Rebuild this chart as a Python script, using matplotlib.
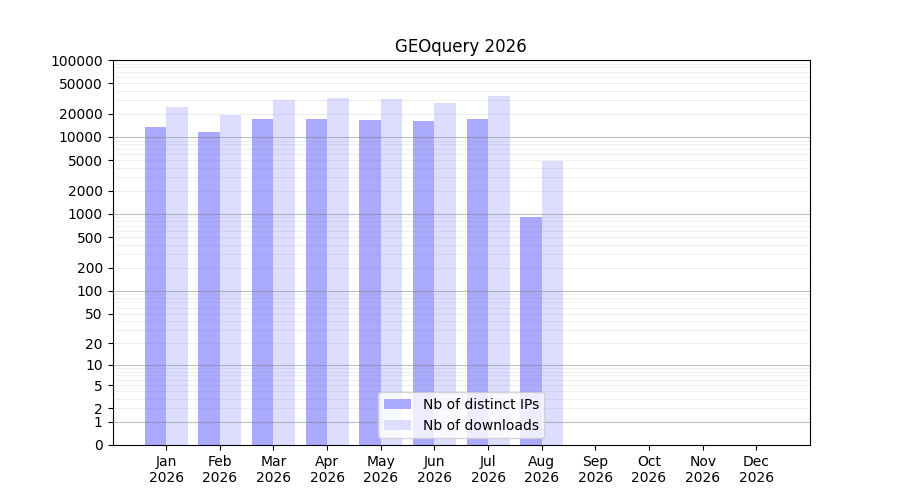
import numpy as np
import matplotlib
matplotlib.use('Agg')
import matplotlib.pyplot as plt

months = ['Jan', 'Feb', 'Mar', 'Apr', 'May', 'Jun', 'Jul', 'Aug', 'Sep', 'Oct', 'Nov', 'Dec']
year = '2026'
nb_ips = [13400, 11550, 17050, 17000, 16550, 16050, 17000, 903, 0, 0, 0, 0]
nb_downloads = [24400, 19200, 30100, 32000, 31000, 27550, 34000, 4840, 0, 0, 0, 0]
ytick_vals = [0, 1, 2, 5, 10, 20, 50, 100, 200, 500, 1000, 2000, 5000,
              10000, 20000, 50000, 100000]

fig, ax = plt.subplots(figsize=(9, 5), dpi=100)

# log(y+1) scale so that zero stays on the axis
ax.set_yscale('function', functions=(lambda y: np.log10(np.maximum(y, 0) + 1),
                                     lambda y: 10 ** y - 1))

x = np.arange(1, len(months) + 1)
w = 0.4
ax.bar(x - w / 2, nb_ips, w, color='#aaaaff', label='Nb of distinct IPs')
ax.bar(x + w / 2, nb_downloads, w, color='#ddddff', label='Nb of downloads')

# grid lines
for k in range(5):
    ax.axhline(10 ** k, color='gray', alpha=0.5, lw=0.8, zorder=3)
    for m in range(2, 10):
        ax.axhline(m * 10 ** k, color='gray', alpha=0.12, lw=0.8, zorder=3)

ax.set_ylim(0, 100000)
ax.set_yticks(ytick_vals)
ax.set_yticklabels([str(v) for v in ytick_vals])
ax.minorticks_off()
ax.set_xlim(0, 13)
ax.set_xticks(x)
ax.set_xticklabels([m + '\n' + year for m in months])
ax.set_title('GEOquery 2026')
ax.legend(loc='lower center')

fig.savefig('out.png')
